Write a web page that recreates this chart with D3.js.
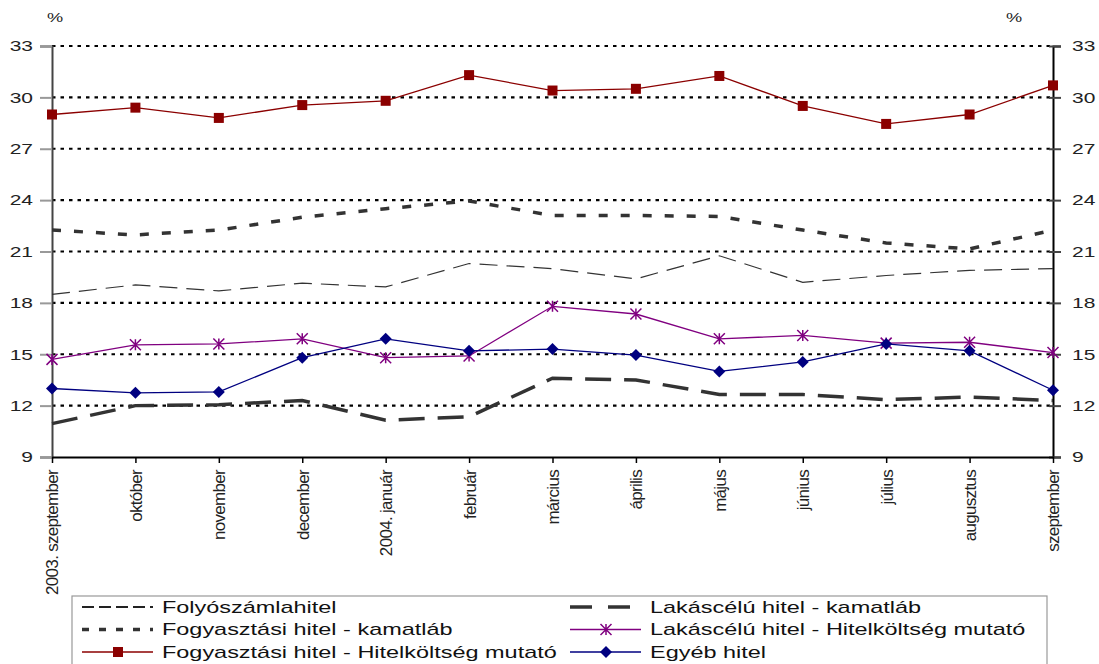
<!DOCTYPE html>
<html><head><meta charset="utf-8">
<script src="https://cdn.jsdelivr.net/npm/d3@7"></script>
<style>body{margin:0;background:#fff;} svg{display:block;font-family:"Liberation Sans",Arial,sans-serif;}</style>
</head><body>
<svg id="c" width="1099" height="664"></svg>
<script>
const categories = ["2003. szeptember","október","november","december","2004. január","február","március","április","május","június","július","augusztus","szeptember"];
const yTicks = [9,12,15,18,21,24,27,30,33];
const folyoszamla = [18.5,19.05,18.7,19.15,18.93,20.3,20.0,19.4,20.75,19.2,19.6,19.9,20.0];
const lakasKamat = [10.95,12.0,12.05,12.3,11.15,11.35,13.6,13.5,12.65,12.65,12.35,12.5,12.3];
const fogyKamat = [22.25,21.97,22.25,23.0,23.5,23.95,23.1,23.1,23.05,22.25,21.5,21.15,22.25];
const lakasTHM = [14.7,15.55,15.6,15.9,14.8,14.9,17.8,17.35,15.9,16.1,15.65,15.7,15.1];
const fogyTHM = [29.0,29.4,28.8,29.55,29.8,31.3,30.4,30.5,31.25,29.5,28.45,29.0,30.7];
const egyeb = [13.0,12.75,12.8,14.8,15.9,15.2,15.3,14.95,14.0,14.55,15.6,15.2,12.9];

const svg = d3.select("#c");
const L=52, R=1053, T=46, B=457;
const SX = 1.4; // horizontal stretch of horizontal texts
const x = d3.scalePoint().domain(categories).range([L,R]);
const y = d3.scaleLinear().domain([9,33]).range([B,T]);

// gridlines
svg.append("g").selectAll("line").data(yTicks.filter(d=>d>9)).join("line")
  .attr("x1",L).attr("x2",R).attr("y1",d=>y(d)).attr("y2",d=>y(d))
  .attr("stroke","#000").attr("stroke-width",2.2).attr("stroke-dasharray","3.5,5");

// axes
const gl = svg.append("g").attr("transform",`translate(${L},0)`)
  .call(d3.axisLeft(y).tickValues(yTicks).tickSize(12).tickPadding(7));
gl.select(".domain").attr("stroke","#444").attr("stroke-width",2);
gl.selectAll(".tick line").attr("stroke","#999").attr("stroke-width",2);
gl.selectAll("text").attr("font-size",15).attr("fill","#222").attr("font-family","Liberation Sans, Arial")
  .attr("x",0).attr("transform",`translate(-19,0) scale(${SX},1)`);

const gr = svg.append("g").attr("transform",`translate(${R},0)`)
  .call(d3.axisRight(y).tickValues(yTicks).tickSize(8).tickPadding(10));
gr.select(".domain").attr("stroke","#000").attr("stroke-width",2);
gr.selectAll(".tick line").attr("stroke","#444").attr("stroke-width",2).attr("x1",-4);
gr.selectAll("text").attr("font-size",15).attr("fill","#222").attr("font-family","Liberation Sans, Arial")
  .attr("x",0).attr("transform",`translate(19,0) scale(${SX},1)`);

const gb = svg.append("g").attr("transform",`translate(0,${B})`)
  .call(d3.axisBottom(x).tickSize(6).tickSizeOuter(0));
gb.select(".domain").attr("stroke","#000").attr("stroke-width",2);
gb.selectAll(".tick line").attr("stroke","#000").attr("stroke-width",1.5);
gb.selectAll("text").attr("font-size",17).attr("fill","#222")
  .attr("font-family","Liberation Sans, Arial").attr("letter-spacing","-0.7px")
  .attr("transform","rotate(-90)").attr("text-anchor","end").attr("dy","0.35em").attr("x",-13).attr("y",0);

svg.append("text").attr("transform",`translate(47,22) scale(${SX},1)`).attr("font-size",13).attr("fill","#222").text("%");
svg.append("text").attr("transform",`translate(1006,22) scale(${SX},1)`).attr("font-size",13).attr("fill","#222").text("%");

const line = d3.line().x((d,i)=>x(categories[i])).y(d=>y(d));
const series = [
  {name:"Folyószámlahitel", data:folyoszamla, color:"#333", w:1.2, dash:"18,9", marker:null},
  {name:"Lakáscélú hitel - kamatláb", data:lakasKamat, color:"#333", w:3.5, dash:"26,13", marker:null},
  {name:"Fogyasztási hitel - kamatláb", data:fogyKamat, color:"#333", w:3.5, dash:"9,13", marker:null},
  {name:"Lakáscélú hitel - Hitelköltség mutató", data:lakasTHM, color:"#800080", w:1.3, dash:null, marker:"star"},
  {name:"Fogyasztási hitel - Hitelköltség mutató", data:fogyTHM, color:"#8B0000", w:1.3, dash:null, marker:"square"},
  {name:"Egyéb hitel", data:egyeb, color:"#000080", w:1.3, dash:null, marker:"diamond"}
];

function drawMarker(g, type, color, cx, cy){
  if(type==="square"){
    g.append("rect").attr("x",cx-5).attr("y",cy-5).attr("width",10).attr("height",10).attr("fill",color);
  } else if(type==="diamond"){
    g.append("path").attr("d",`M${cx},${cy-6}L${cx+6},${cy}L${cx},${cy+6}L${cx-6},${cy}Z`).attr("fill",color);
  } else if(type==="star"){
    const r=5.5;
    g.append("path").attr("d",`M${cx-r},${cy-r}L${cx+r},${cy+r}M${cx-r},${cy+r}L${cx+r},${cy-r}M${cx},${cy-r}L${cx},${cy+r}`)
      .attr("stroke",color).attr("stroke-width",1.5).attr("fill","none");
  }
}

series.forEach(s=>{
  const p = svg.append("path").datum(s.data).attr("d",line).attr("fill","none")
    .attr("stroke",s.color).attr("stroke-width",s.w);
  if(s.dash) p.attr("stroke-dasharray",s.dash);
  if(s.marker){
    const g = svg.append("g");
    s.data.forEach((v,i)=>drawMarker(g,s.marker,s.color,x(categories[i]),y(v)));
  }
});

// legend
const lg = svg.append("g");
lg.append("rect").attr("x",72).attr("y",596).attr("width",975).attr("height",80)
  .attr("fill","#fff").attr("stroke","#999").attr("stroke-width",1.2);
const legStyle = {0:{dash:"12,5",w:2,c:"#222"},1:{dash:"22,16",w:3.5,c:"#333"},2:{dash:"7,10",w:3.5,c:"#333"}};
series.forEach((s,k)=>{
  const col = k%2, row = Math.floor(k/2);
  const lx = col===0?82:570, ly = 607 + row*22.5;
  const st = legStyle[k] || {dash:null,w:s.w,c:s.color};
  const l = lg.append("line").attr("x1",lx).attr("x2",lx+71).attr("y1",ly).attr("y2",ly)
    .attr("stroke",st.c).attr("stroke-width",st.w);
  if(st.dash) l.attr("stroke-dasharray",st.dash);
  if(s.marker) drawMarker(lg,s.marker,s.color,lx+36,ly);
  lg.append("text").attr("transform",`translate(${lx+80},${ly}) scale(1.38,1)`).attr("dy","0.35em").attr("font-size",17)
    .attr("fill","#111").text(s.name);
});
</script>
</body></html>
